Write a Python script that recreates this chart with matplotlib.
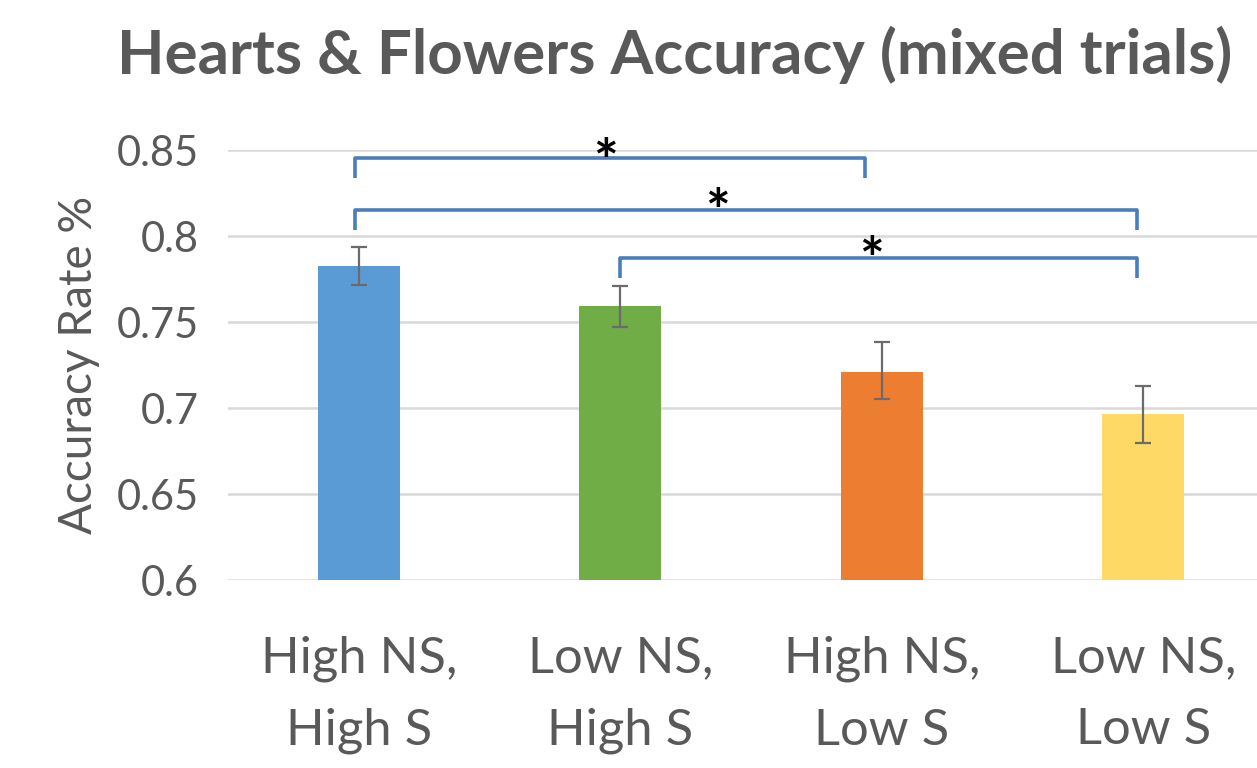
import matplotlib
matplotlib.use("Agg")
import matplotlib.pyplot as plt
import numpy as np

# ---- data ----
categories = ["High NS,\nHigh S", "Low NS,\nHigh S", "High NS,\nLow S", "Low NS,\nLow S"]
accuracy = [0.7826, 0.7592, 0.7212, 0.6966]
err_low = [0.0111, 0.0121, 0.0160, 0.0169]
err_high = [0.0110, 0.0117, 0.0172, 0.0162]
bar_colors = ["#5B9BD5", "#70AD47", "#ED7D31", "#FFD966"]
yticks = [0.6, 0.65, 0.7, 0.75, 0.8, 0.85]
ytick_labels = ["0.6", "0.65", "0.7", "0.75", "0.8", "0.85"]

# significance brackets: (start category, end category, bar level, leg bottom)
bracket_start = [-0.015, -0.015, 0.998]
bracket_end = [1.935, 2.975, 2.975]
bracket_top = [0.8453, 0.8151, 0.7872]
bracket_leg = [0.8337, 0.8035, 0.7756]
star_x = [0.945, 1.373, 1.962]
star_y = [0.8512, 0.8221, 0.7942]

title = "Hearts & Flowers Accuracy (mixed trials)"
ylabel = "Accuracy Rate %"

plt.rcParams['font.family'] = ['Lato', 'DejaVu Sans']
W, H = 1257, 768
fig = plt.figure(figsize=(W / 100, H / 100), dpi=100)
ax = fig.add_axes([228 / W, (H - 580) / H, 1046 / W, 430 / H])

x = np.arange(len(categories))
ax.bar(x, accuracy, width=82 / 261.5, color=bar_colors, zorder=2)
ax.errorbar(x, accuracy, yerr=[err_low, err_high], fmt='none', ecolor='#6b6b6b',
            elinewidth=1.6, capsize=6, capthick=1.6, zorder=3)

ax.set_xlim(-0.5, 3.5)
ax.set_ylim(0.6, 0.85)
ax.set_yticks(yticks)
ax.set_yticklabels(ytick_labels)
ax.yaxis.grid(True, color='#d9d9d9', linewidth=1.8, zorder=0)
ax.set_axisbelow(True)
for s in ax.spines.values():
    s.set_visible(False)
ax.tick_params(axis='y', length=0, pad=21, labelsize=30, labelcolor='#595959')
ax.set_xticks(x)
ax.set_xticklabels(categories, fontsize=36.5, color='#595959', linespacing=1.70)
ax.tick_params(axis='x', length=0, pad=40)

ax.set_ylabel(ylabel, fontsize=33, color='#595959', labelpad=12)

for xs, xe, yt, yl in zip(bracket_start, bracket_end, bracket_top, bracket_leg):
    ax.plot([xs, xs, xe, xe], [yl, yt, yt, yl], color='#4a7ebb', linewidth=2.6,
            solid_joinstyle='round', solid_capstyle='butt', clip_on=False, zorder=4)
for sx, sy in zip(star_x, star_y):
    ax.annotate("*", xy=(sx, sy), xytext=(0, -12), textcoords='offset points',
                ha='center', va='center', fontsize=42, fontweight='bold',
                color='black', annotation_clip=False, zorder=5)

fig.text(675 / W, 1 - 55 / H, title, ha='center', va='center', fontsize=44.5,
         fontweight='bold', color='#595959')

fig.savefig("out.png", dpi=100)
